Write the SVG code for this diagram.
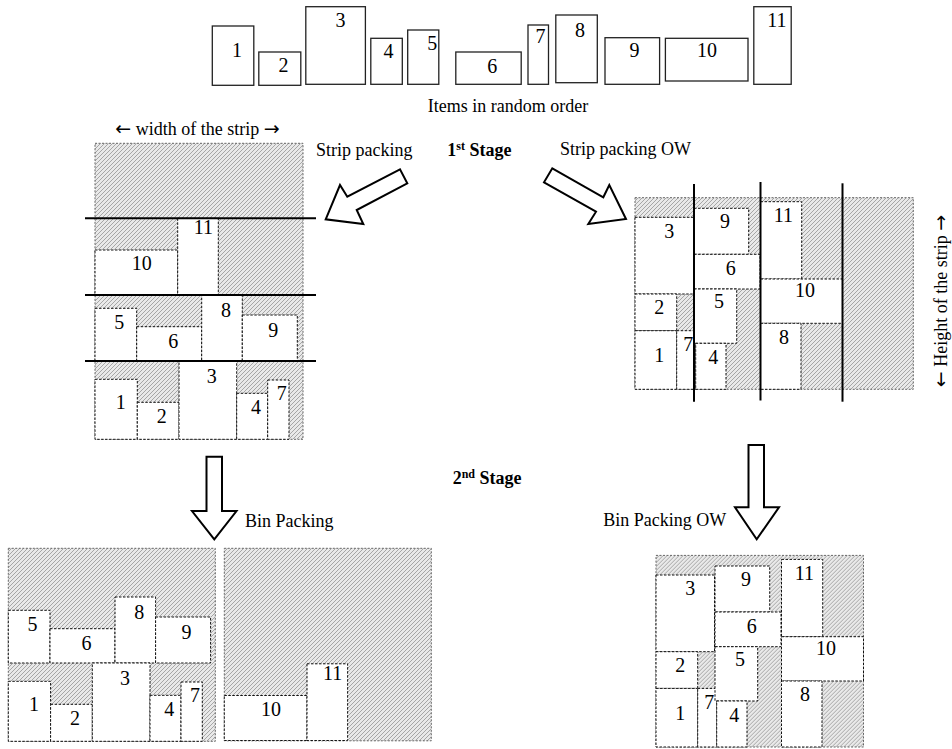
<svg xmlns="http://www.w3.org/2000/svg" width="952" height="749" viewBox="0 0 952 749">
<defs>
<pattern id="hatch" width="4" height="4" patternUnits="userSpaceOnUse">
<rect width="4" height="4" fill="#e9e9e9"/>
<path d="M-1,1 L1,-1 M0,4 L4,0 M3,5 L5,3" stroke="#a2a2a2" stroke-width="0.95"/>
</pattern>
<style>
.item{fill:#fff;stroke:#222;stroke-width:1.3}
.box{fill:#fff;stroke:#111;stroke-width:1;stroke-dasharray:2.5 1.5}
.shade{fill:url(#hatch);stroke:#666;stroke-width:1;stroke-dasharray:2 1.5}
.num{font-family:"Liberation Serif","Times New Roman",serif;font-size:20px;text-anchor:middle;fill:#000}
.lbl{font-family:"Liberation Serif","Times New Roman",serif;font-size:18px;fill:#000}
.arr{font-family:"DejaVu Sans",sans-serif;font-size:19px}
.stage{font-weight:bold}
.level{stroke:#000;stroke-width:2}
.arrow{fill:#fff;stroke:#000;stroke-width:2;stroke-linejoin:miter}
</style>
</defs>
<rect width="952" height="749" fill="#fff"/>

<g id="items">
<g id="item-1"><rect class="item" x="212.3" y="26" width="41.5" height="59.3"/><text class="num" x="237" y="56.7">1</text></g>
<g id="item-2"><rect class="item" x="258.8" y="52" width="42" height="33.3"/><text class="num" x="283.5" y="71.7">2</text></g>
<g id="item-3"><rect class="item" x="305.8" y="6.7" width="59.6" height="77.6"/><text class="num" x="340.4" y="26.7">3</text></g>
<g id="item-4"><rect class="item" x="370.8" y="38.3" width="31.5" height="46"/><text class="num" x="388.5" y="58.3">4</text></g>
<g id="item-5"><rect class="item" x="407.7" y="30" width="31.1" height="54.3"/><text class="num" x="432.3" y="50">5</text></g>
<g id="item-6"><rect class="item" x="455.8" y="52" width="65.4" height="32.3"/><text class="num" x="492.3" y="72.7">6</text></g>
<g id="item-7"><rect class="item" x="528" y="25" width="20.5" height="59.3"/><text class="num" x="540.4" y="43.3">7</text></g>
<g id="item-8"><rect class="item" x="555.8" y="15" width="41.5" height="67.7"/><text class="num" x="580" y="36.7">8</text></g>
<g id="item-9"><rect class="item" x="605" y="37.7" width="54.6" height="46.6"/><text class="num" x="634.6" y="56.7">9</text></g>
<g id="item-10"><rect class="item" x="665.4" y="38.3" width="82.6" height="42.7"/><text class="num" x="706.9" y="57.3">10</text></g>
<g id="item-11"><rect class="item" x="753.8" y="6.7" width="37.4" height="77.6"/><text class="num" x="776.9" y="26.7">11</text></g>
<text class="lbl" x="508" y="111.7" text-anchor="middle">Items in random order</text>
</g>

<g id="strip-left">
<rect class="shade" x="95" y="143.3" width="208" height="296"/>
<g id="sl-10"><rect class="box" x="95" y="250" width="82.7" height="45"/><text class="num" x="141.7" y="270">10</text></g>
<g id="sl-11"><rect class="box" x="177.7" y="218.3" width="40.6" height="76.7"/><text class="num" x="203.3" y="234">11</text></g>
<g id="sl-5"><rect class="box" x="95" y="308.3" width="41.7" height="52.7"/><text class="num" x="119.3" y="329.3">5</text></g>
<g id="sl-6"><rect class="box" x="136.7" y="326.7" width="65" height="34.3"/><text class="num" x="173.3" y="348.3">6</text></g>
<g id="sl-8"><rect class="box" x="201.7" y="295" width="40.6" height="66"/><text class="num" x="226" y="316.7">8</text></g>
<g id="sl-9"><rect class="box" x="242.3" y="315" width="55" height="46"/><text class="num" x="273.3" y="336.7">9</text></g>
<g id="sl-1"><rect class="box" x="95" y="379.3" width="42.3" height="60"/><text class="num" x="120.7" y="409">1</text></g>
<g id="sl-2"><rect class="box" x="137.3" y="402.3" width="41.7" height="37"/><text class="num" x="161.7" y="423.3">2</text></g>
<g id="sl-3"><rect class="box" x="179" y="361" width="57.7" height="78.3"/><text class="num" x="211.7" y="382.7">3</text></g>
<g id="sl-4"><rect class="box" x="236.7" y="393.3" width="31" height="46"/><text class="num" x="256" y="414">4</text></g>
<g id="sl-7"><rect class="box" x="267.7" y="380" width="21.3" height="59.3"/><text class="num" x="281.7" y="400">7</text></g>
<line class="level" x1="85" y1="218.3" x2="316" y2="218.3"/>
<line class="level" x1="85" y1="295" x2="316" y2="295"/>
<line class="level" x1="85" y1="361" x2="316" y2="361"/>
</g>

<g id="strip-ow">
<rect class="shade" x="635" y="197.7" width="278.3" height="191.6"/>
<g id="so-3"><rect class="box" x="635" y="217.3" width="58.5" height="76.7"/><text class="num" x="669.3" y="237.5">3</text></g>
<g id="so-2"><rect class="box" x="635" y="294" width="41.7" height="36.7"/><text class="num" x="659.3" y="314">2</text></g>
<g id="so-1"><rect class="box" x="635" y="330.7" width="41.7" height="58.6"/><text class="num" x="659.3" y="362">1</text></g>
<g id="so-7"><rect class="box" x="676.7" y="330.7" width="19" height="58.6"/><text class="num" x="688.3" y="351">7</text></g>
<g id="so-9"><rect class="box" x="694" y="208.3" width="54.7" height="46"/><text class="num" x="725" y="228">9</text></g>
<g id="so-6"><rect class="box" x="694" y="254.3" width="66" height="34.7"/><text class="num" x="730.7" y="275">6</text></g>
<g id="so-5"><rect class="box" x="694" y="289" width="42.7" height="54.3"/><text class="num" x="719" y="308">5</text></g>
<g id="so-4"><rect class="box" x="695.7" y="343.3" width="30.3" height="46"/><text class="num" x="713.3" y="364">4</text></g>
<g id="so-11"><rect class="box" x="760.5" y="201.7" width="41.2" height="77.3"/><text class="num" x="783.3" y="222">11</text></g>
<g id="so-10"><rect class="box" x="760.5" y="279" width="82" height="44.3"/><text class="num" x="805" y="297">10</text></g>
<g id="so-8"><rect class="box" x="760.5" y="323.3" width="40.5" height="66"/><text class="num" x="784" y="343.5">8</text></g>
<line class="level" x1="694" y1="184" x2="694" y2="401.7"/>
<line class="level" x1="760.5" y1="182" x2="760.5" y2="400.5"/>
<line class="level" x1="842.5" y1="183.3" x2="842.5" y2="401.7"/>
</g>

<g id="bin-1">
<rect class="shade" x="8.3" y="548.3" width="207" height="193"/>
<g transform="translate(-86.7,302)">
<g id="b1-5"><rect class="box" x="95" y="308.3" width="41.7" height="52.7"/><text class="num" x="119.3" y="329.3">5</text></g>
<g id="b1-6"><rect class="box" x="136.7" y="326.7" width="65" height="34.3"/><text class="num" x="173.3" y="348.3">6</text></g>
<g id="b1-8"><rect class="box" x="201.7" y="295" width="40.6" height="66"/><text class="num" x="226" y="316.7">8</text></g>
<g id="b1-9"><rect class="box" x="242.3" y="315" width="55" height="46"/><text class="num" x="273.3" y="336.7">9</text></g>
<g id="b1-1"><rect class="box" x="95" y="379.3" width="42.3" height="60"/><text class="num" x="120.7" y="409">1</text></g>
<g id="b1-2"><rect class="box" x="137.3" y="402.3" width="41.7" height="37"/><text class="num" x="161.7" y="423.3">2</text></g>
<g id="b1-3"><rect class="box" x="179" y="361" width="57.7" height="78.3"/><text class="num" x="211.7" y="382.7">3</text></g>
<g id="b1-4"><rect class="box" x="236.7" y="393.3" width="31" height="46"/><text class="num" x="256" y="414">4</text></g>
<g id="b1-7"><rect class="box" x="267.7" y="380" width="21.3" height="59.3"/><text class="num" x="281.7" y="400">7</text></g>
</g>
</g>

<g id="bin-2">
<rect class="shade" x="224.3" y="548.3" width="207" height="192.5"/>
<g transform="translate(129.3,445.5)">
<g id="b2-10"><rect class="box" x="95" y="250" width="82.7" height="45"/><text class="num" x="141.7" y="270">10</text></g>
<g id="b2-11"><rect class="box" x="177.7" y="218.3" width="40.6" height="76.7"/><text class="num" x="203.3" y="234">11</text></g>
</g>
</g>

<g id="bin-ow">
<g transform="translate(21,357.7)">
<rect class="shade" x="635" y="197.7" width="207.5" height="191.6"/>
<g id="bo-3"><rect class="box" x="635" y="217.3" width="58.5" height="76.7"/><text class="num" x="669.3" y="237.5">3</text></g>
<g id="bo-2"><rect class="box" x="635" y="294" width="41.7" height="36.7"/><text class="num" x="659.3" y="314">2</text></g>
<g id="bo-1"><rect class="box" x="635" y="330.7" width="41.7" height="58.6"/><text class="num" x="659.3" y="362">1</text></g>
<g id="bo-7"><rect class="box" x="676.7" y="330.7" width="19" height="58.6"/><text class="num" x="688.3" y="351">7</text></g>
<g id="bo-9"><rect class="box" x="694" y="208.3" width="54.7" height="46"/><text class="num" x="725" y="228">9</text></g>
<g id="bo-6"><rect class="box" x="694" y="254.3" width="66" height="34.7"/><text class="num" x="730.7" y="275">6</text></g>
<g id="bo-5"><rect class="box" x="694" y="289" width="42.7" height="54.3"/><text class="num" x="719" y="308">5</text></g>
<g id="bo-4"><rect class="box" x="695.7" y="343.3" width="30.3" height="46"/><text class="num" x="713.3" y="364">4</text></g>
<g id="bo-11"><rect class="box" x="760.5" y="201.7" width="41.2" height="77.3"/><text class="num" x="783.3" y="222">11</text></g>
<g id="bo-10"><rect class="box" x="760.5" y="279" width="82" height="44.3"/><text class="num" x="805" y="297">10</text></g>
<g id="bo-8"><rect class="box" x="760.5" y="323.3" width="40.5" height="66"/><text class="num" x="784" y="343.5">8</text></g>
</g>
</g>

<g id="labels">
<text class="lbl" x="197.5" y="135" text-anchor="middle"><tspan class="arr">←</tspan> width of the strip <tspan class="arr">→</tspan></text>
<text class="lbl" x="316" y="156">Strip packing</text>
<text class="lbl stage" x="447.3" y="156">1<tspan dy="-6" font-size="12">st</tspan><tspan dy="6"> Stage</tspan></text>
<text class="lbl" x="560" y="155">Strip packing OW</text>
<text class="lbl" transform="translate(946.5,301) rotate(-90)" text-anchor="middle"><tspan class="arr">←</tspan> Height of the strip <tspan class="arr">→</tspan></text>
<text class="lbl stage" x="452.7" y="484.3">2<tspan dy="-6" font-size="12">nd</tspan><tspan dy="6"> Stage</tspan></text>
<text class="lbl" x="245" y="527.3">Bin Packing</text>
<text class="lbl" x="603.3" y="526">Bin Packing OW</text>
</g>

<g id="connectors">
<polygon class="arrow" points="400,169.3 347.3,196.7 340,185 325.7,219.3 363.3,224 356.7,210 407.3,183.3"/>
<polygon class="arrow" points="552.3,168.3 603.3,197.3 609.3,185 626,219 588.3,224 596,211.7 544,182.3"/>
<polygon class="arrow" points="206.5,456.7 222,456.7 222,511 236.5,511 214.3,539.3 192,511 206.5,511"/>
<polygon class="arrow" points="748.5,445 764,445 764,507.3 779,507.3 756.7,539.3 735,507.3 748.5,507.3"/>
</g>
</svg>
